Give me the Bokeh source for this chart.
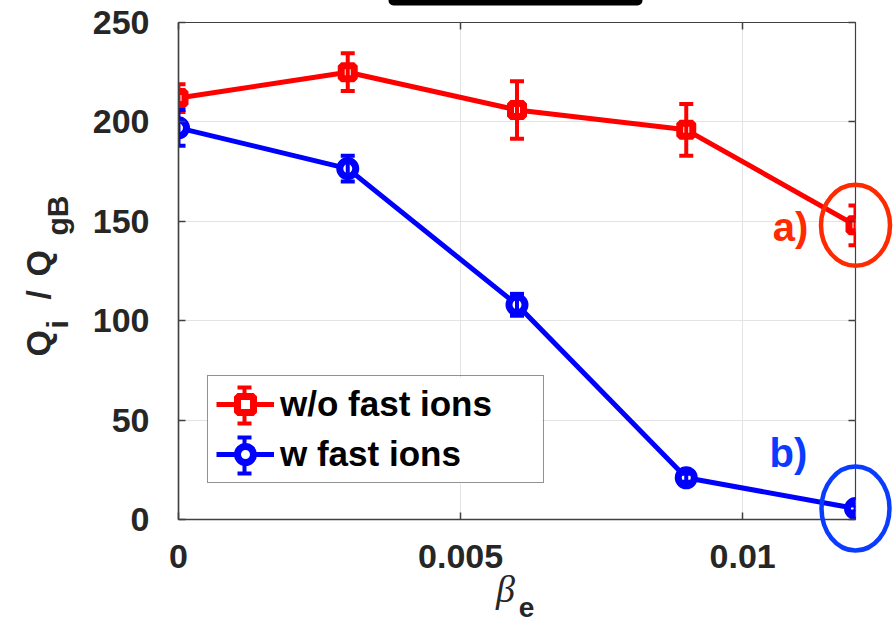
import numpy as np
from bokeh.plotting import figure
from bokeh.models import Range1d, FixedTicker, LinearAxis, Legend, LegendItem
from bokeh.core.properties import value
from bokeh.embed import file_html
from bokeh.resources import INLINE

# ---------------- data ----------------
beta_e = [0.0, 0.003, 0.006, 0.009, 0.012]
q_wo_fast = [212, 225, 206, 196, 148]
err_wo_fast = [7, 9.5, 14.5, 13, 10]
q_w_fast = [197, 176.5, 108, 21, 5.5]
err_w_fast = [9, 6.5, 5.5, 2, 1.5]
series_names = ["w/o fast ions", "w fast ions"]
x_ticks = [0, 0.005, 0.01]
x_tick_labels = ["0", "0.005", "0.01"]
y_ticks = [0, 50, 100, 150, 200, 250]
case_labels = ["a)", "b)"]

# ---------------- layout ----------------
W, H = 895, 623
FL, FT, FW, FH = 178, 22, 677, 497
X0, X1 = 0.0, 0.012
Y0, Y1 = 0.0, 250.0
RED = "#ff0000"
BLUE = "#0000ff"
A_COL = "#ff2a00"
B_COL = "#0a3cff"
TXT = "#262626"
AX = "#404040"
FONT = "Liberation Sans"
BASE_K = 0.42  # shift of the drawn baseline relative to the anchor, per px of font size

def dx(px):
    return px * (X1 - X0) / FW

def dy(px):
    return px * (Y1 - Y0) / FH

def cx(px):
    return X0 + dx(px - FL)

def cy(py):
    return Y0 + dy(FT + FH - py)

p = figure(frame_width=FW, frame_height=FH,
           x_range=Range1d(X0, X1), y_range=Range1d(Y0, Y1),
           output_backend="svg", toolbar_location=None,
           min_border_left=FL, min_border_top=FT,
           min_border_right=W - FL - FW, min_border_bottom=H - FT - FH)
p.background_fill_color = "white"
p.border_fill_color = "white"
p.outline_line_color = AX
p.outline_line_width = 1.2

xt = FixedTicker(ticks=x_ticks)
yt = FixedTicker(ticks=y_ticks)
p.xaxis.ticker = xt
p.yaxis.ticker = yt
p.xgrid.ticker = xt
p.ygrid.ticker = yt
p.xaxis.major_label_overrides = dict(zip(x_ticks, x_tick_labels))
for g in (p.xgrid[0], p.ygrid[0]):
    g.grid_line_color = "#e3e3e3"
    g.grid_line_width = 1

for ax in (p.xaxis[0], p.yaxis[0]):
    ax.major_tick_in = 7
    ax.major_tick_out = 0
    ax.minor_tick_line_color = None
    ax.axis_line_color = AX
    ax.axis_line_width = 1.5
    ax.major_tick_line_color = AX
    ax.major_tick_line_width = 1.5
    ax.major_label_text_font = FONT
    ax.major_label_text_font_style = "bold"
    ax.major_label_text_font_size = "34px"
    ax.major_label_text_color = TXT
p.xaxis.major_label_standoff = 25
p.yaxis.major_label_standoff = 29

# mirrored ticks (box), no labels drawn
for ticker, place in ((xt, "above"), (yt, "right")):
    p.add_layout(LinearAxis(ticker=ticker, major_label_text_font_size="1px",
                            major_label_text_color=None,
                            major_tick_in=7, major_tick_out=0,
                            minor_tick_line_color=None, axis_line_color=None,
                            major_tick_line_color=AX, major_tick_line_width=1.5,
                            major_label_standoff=0), place)

# ---------------- legend geometry ----------------
LEG_L, LEG_B, LEG_PAD, LEG_GW, LEG_GH, LEG_SP, LEG_STAND, LEG_LW = 29, 36, 8, 58, 40, 10, 6, 255
leg_left = FL + LEG_L
leg_bottom = FT + FH - LEG_B
leg_top = leg_bottom - (2 * LEG_PAD + 2 * LEG_GH + LEG_SP)
leg_right = leg_left + 2 * LEG_PAD + LEG_GW + LEG_STAND + LEG_LW
# opaque legend background (under the legend, hides the grid)
p.quad(left=[cx(leg_left)], right=[cx(leg_right)], top=[cy(leg_top)],
       bottom=[cy(leg_bottom)], fill_color="white", line_color=None)

# ---------------- series ----------------
def series(y, err, color, marker, size, lw_marker):
    lo = [v - e for v, e in zip(y, err)]
    hi = [v + e for v, e in zip(y, err)]
    ln = p.line(beta_e, y, line_color=color, line_width=5)
    mk = p.scatter(beta_e, y, marker=marker, size=size, line_color=color,
                   line_width=lw_marker, fill_color="white")
    p.segment(x0=beta_e, y0=lo, x1=beta_e, y1=hi, line_color=color, line_width=4)
    p.scatter(beta_e, lo, marker="dash", size=14, line_color=color, line_width=4)
    p.scatter(beta_e, hi, marker="dash", size=14, line_color=color, line_width=4)
    return ln, mk

r_ln, r_mk = series(q_wo_fast, err_wo_fast, RED, "square", 13, 7)
b_ln, b_mk = series(q_w_fast, err_w_fast, BLUE, "circle", 16, 7)

# error-bar symbol inside the legend glyphs
leg_cx = leg_left + LEG_PAD + LEG_GW / 2
leg_cy = [leg_top + LEG_PAD + LEG_GH / 2,
          leg_top + LEG_PAD + LEG_GH + LEG_SP + LEG_GH / 2]
for yc, col in zip(leg_cy, (RED, BLUE)):
    p.segment(x0=[cx(leg_cx)], y0=[cy(yc - 18)], x1=[cx(leg_cx)], y1=[cy(yc + 18)],
              line_color=col, line_width=4)
    p.scatter([cx(leg_cx)] * 2, [cy(yc - 18), cy(yc + 18)], marker="dash", size=14,
              line_color=col, line_width=4)

legend = Legend(items=[LegendItem(label=series_names[0], renderers=[r_ln, r_mk]),
                       LegendItem(label=series_names[1], renderers=[b_ln, b_mk])],
                location=(LEG_L, LEG_B), padding=LEG_PAD, spacing=LEG_SP,
                glyph_height=LEG_GH, glyph_width=LEG_GW, label_standoff=LEG_STAND,
                label_width=LEG_LW, margin=0,
                border_line_color=TXT, border_line_width=1,
                background_fill_color=None, background_fill_alpha=0,
                label_text_font=FONT, label_text_font_style="bold",
                label_text_font_size="35px", label_text_color="black")
p.add_layout(legend)

# ---------------- case markers (ellipses + labels), drawn unclipped ----------------
p.ellipse(x=[beta_e[-1]], y=[q_wo_fast[-1]], width=69, height=81,
          width_units="screen", height_units="screen", fill_color=None,
          line_color=A_COL, line_width=4.5, level="overlay")
p.ellipse(x=[beta_e[-1]], y=[q_w_fast[-1]], width=68, height=84,
          width_units="screen", height_units="screen", fill_color=None,
          line_color=B_COL, line_width=4.5, level="overlay")

p.text(x=[beta_e[-1] - dx(65)], y=[q_wo_fast[-1] - dy(2)], text=[case_labels[0]],
       text_align="center", text_baseline="middle", text_font=value(FONT),
       text_font_style="bold", text_font_size="40px", text_color=A_COL,
       level="overlay")
p.text(x=[beta_e[-1] - dx(67)], y=[q_w_fast[-1] + dy(56)], text=[case_labels[1]],
       text_align="center", text_baseline="middle", text_font=value(FONT),
       text_font_style="bold", text_font_size="40px", text_color=B_COL,
       level="overlay")

# ---------------- axis titles (drawn as unclipped text) ----------------
def vtext(texts, pxs, pys, size):
    k = BASE_K * size
    p.text(x=[cx(v - k) for v in pxs], y=[cy(v) for v in pys], text=texts,
           angle=np.pi / 2, text_align="left", text_baseline="alphabetic",
           text_font=value(FONT), text_font_style="bold",
           text_font_size="%dpx" % size, text_color=TXT, level="overlay")

vtext(["Q", "/", "Q"], [52, 52, 52], [356, 299, 276], 34)
vtext(["i", "gB"], [70, 70], [328, 235], 30)

p.text(x=[cx(505)], y=[cy(604 - BASE_K * 38)], text=["\u03b2"], text_align="center",
       text_baseline="alphabetic", text_font=value("Liberation Serif"),
       text_font_style="italic", text_font_size="38px", text_color=TXT,
       level="overlay")
p.text(x=[cx(526)], y=[cy(619 - BASE_K * 28)], text=["e"], text_align="center",
       text_baseline="alphabetic", text_font=value(FONT),
       text_font_style="bold", text_font_size="28px", text_color=TXT,
       level="overlay")

# black bar at the very top (cropped title box)
try:
    p.quad(left=[cx(388)], right=[cx(642)], bottom=[cy(5)], top=[cy(-12)],
           fill_color="black", line_color=None, border_radius=5, level="overlay")
except Exception:
    p.quad(left=[cx(388)], right=[cx(642)], bottom=[cy(5)], top=[cy(-12)],
           fill_color="black", line_color=None, level="overlay")

open("out.html", "w").write(file_html(p, INLINE))
